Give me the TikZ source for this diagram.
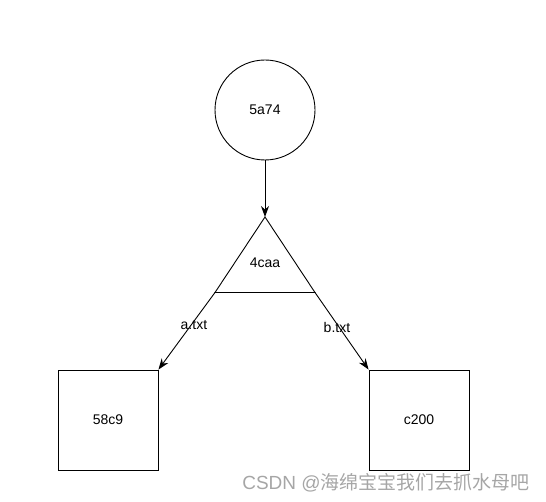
\documentclass[tikz,border=0pt]{standalone}
\usepackage{fontspec}
\setmainfont{Liberation Sans}
\newfontfamily\cjk{Noto Sans CJK SC}
\usetikzlibrary{positioning,arrows.meta}
\tikzset{blob/.style = {circle,draw,minimum size=100pt,inner sep=0pt},
         box/.style = {rectangle,draw,minimum size=100pt,inner sep=0pt},
         link/.style = {-{Stealth[length=11pt,width=8pt]}},
         lbl/.style = {inner sep=1pt}}

\begin{document}
\begin{tikzpicture}[x=1pt,y=-1pt,line width=0.9pt,font=\fontsize{14}{16}\selectfont]
        \useasboundingbox (0,0) rectangle (546,502);
        \node [blob] (A) at (265,110) {5a74};
        \coordinate (T)  at (265,217);
        \coordinate (TL) at (215,292.5);
        \coordinate (TR) at (315,292.5);
        \draw (T) -- (TL) -- (TR) -- cycle;
        \node (Tn) at (265,263) {4caa};
        \node [box] (L) at (108,420) {58c9};
        \node [box] (R) at (419,420) {c200};
        \draw [link] (A) -- (T);
        \draw [link] (TL) -- node [lbl,pos=0.42,right=-12pt] {a.txt} (L.north east);
        \draw [link] (TR) -- node [lbl,pos=0.46,left=-12pt] {b.txt} (R.north west);
        \node [text=black!35,font=\fontsize{19}{22}\selectfont] (W) at (386,483)
            {CSDN @{\cjk 海绵宝宝我们去抓水母吧}};
    \end{tikzpicture}
\end{document}
